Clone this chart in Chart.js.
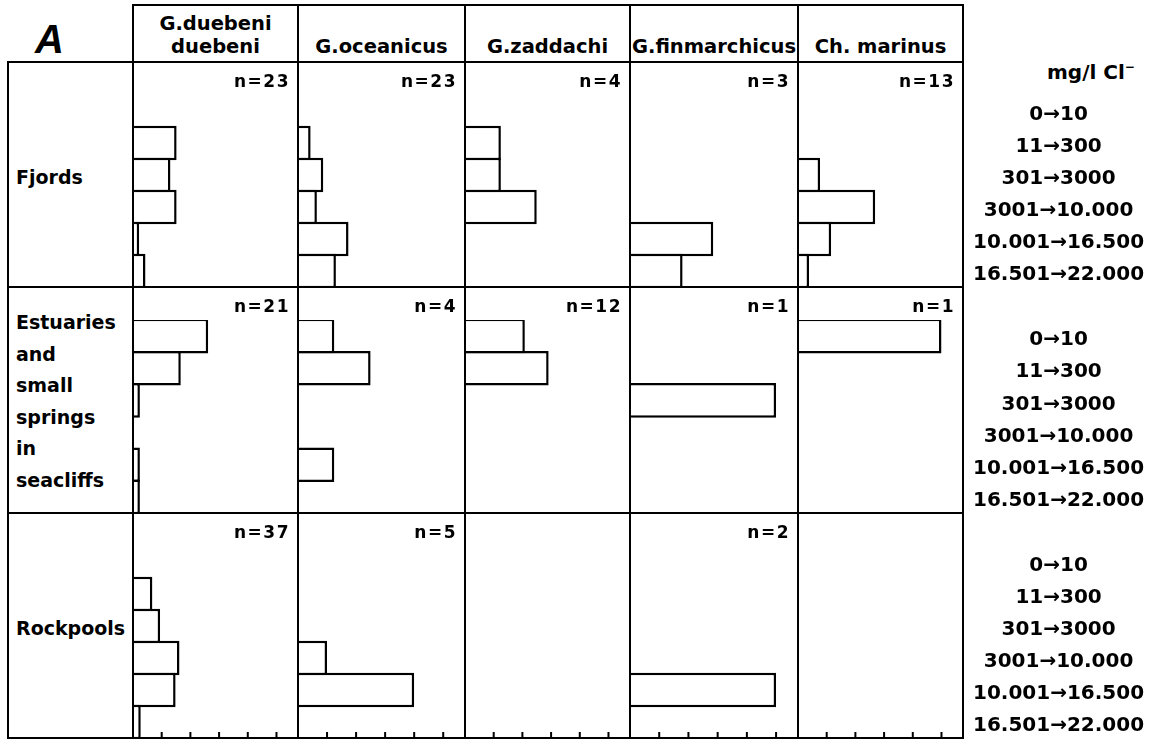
<!DOCTYPE html>
<html>
<head>
<meta charset="utf-8">
<script src="https://cdn.jsdelivr.net/npm/chart.js@4.4.0/dist/chart.umd.min.js"></script>
<style>
  body { margin: 0; background: #fff; }
  #fig { position: relative; width: 1156px; height: 741px; font-family: "DejaVu Sans", sans-serif; font-weight: bold; color: #000; overflow: hidden; }
  #fig canvas { position: absolute; }
  .ln { position: absolute; background: #000; z-index: 3; }
  .txt { position: absolute; white-space: nowrap; line-height: 1; }
</style>
</head>
<body>
<div id="fig"></div>
<script>
// salinity classes (mg/l Cl-)
const categories = ['0→10', '11→300', '301→3000', '3001→10.000', '10.001→16.500', '16.501→22.000'];
const species = [['G.duebeni', 'duebeni'], ['G.oceanicus'], ['G.zaddachi'], ['G.finmarchicus'], ['Ch. marinus']];
const habitats = [['Fjords'], ['Estuaries', 'and', 'small', 'springs', 'in', 'seacliffs'], ['Rockpools']];
const xTickValues = [20, 40, 60, 80, 100];

// number of localities per habitat / species
const nFjords = [23, 23, 4, 3, 13];
const nEstuaries = [21, 4, 12, 1, 1];
const nRockpools = [37, 5, null, 2, null];

// % of localities in each salinity class, one row per species
const fjords = [
  [0, 30.4, 26.1, 30.4, 4.3, 8.7],
  [0, 8.7, 17.4, 13.0, 34.8, 26.1],
  [0, 25, 25, 50, 0, 0],
  [0, 0, 0, 0, 57, 36],
  [0, 0, 15.4, 53.8, 23.1, 7.7]
];
const estuaries = [
  [52.4, 33.3, 4.8, 0, 4.8, 4.8],
  [25, 50, 0, 0, 25, 0],
  [41.7, 58.3, 0, 0, 0, 0],
  [0, 0, 100, 0, 0, 0],
  [100, 0, 0, 0, 0, 0]
];
const rockpools = [
  [0, 13.5, 18.9, 32.4, 29.7, 5.4],
  [0, 0, 0, 20, 80, 0],
  [0, 0, 0, 0, 0, 0],
  [0, 0, 0, 0, 100, 0],
  [0, 0, 0, 0, 0, 0]
];

const fig = document.getElementById('fig');
const colX = [133, 298, 465, 630, 798, 963];
const rowY = [62, 287, 513, 738];
const rightW = 1156 - 963;

function line(x, y, w, h) {
  const d = document.createElement('div');
  d.className = 'ln';
  d.style.left = x + 'px'; d.style.top = y + 'px';
  d.style.width = w + 'px'; d.style.height = h + 'px';
  fig.appendChild(d);
}
function hline(x1, x2, y) { line(x1 - 1, y - 1, x2 - x1 + 2, 2); }
function vline(x, y1, y2) { line(x - 1, y1 - 1, 2, y2 - y1 + 2); }

// text placed by its baseline
function text(str, x, baseline, size, align, extra) {
  const d = document.createElement('div');
  d.className = 'txt';
  d.style.fontSize = size + 'px';
  d.style.top = (baseline - 0.846 * size) + 'px';
  if (align === 'center') {
    d.style.left = (x - 200) + 'px'; d.style.width = '400px'; d.style.textAlign = 'center';
  } else {
    d.style.left = x + 'px';
  }
  if (extra) Object.assign(d.style, extra);
  d.innerHTML = str;
  fig.appendChild(d);
}

// frame
hline(colX[0], colX[5], 5);
hline(8, colX[5], rowY[0]);
rowY.slice(1).forEach(y => hline(8, colX[5], y));
vline(8, rowY[0], rowY[3]);
colX.forEach(x => vline(x, 5, rowY[3]));

// labels
text('A', 35, 53, 40, 'left', { fontFamily: '"Liberation Sans", sans-serif', fontStyle: 'italic' });
species.forEach((lines, c) => {
  const cx = (colX[c] + colX[c + 1]) / 2;
  if (lines.length === 2) {
    text(lines[0], cx, 30, 19.5, 'center');
    text(lines[1], cx, 53, 19.5, 'center');
  } else {
    text(lines[0], cx, 53, 19.5, 'center');
  }
});
text('Fjords', 16, 184, 19, 'left');
habitats[1].forEach((w, i) => text(w, 16, 329 + i * 31.6, 19, 'left'));
text('Rockpools', 16, 635, 19, 'left');
text('mg/l Cl<sup style="font-size:12px">−</sup>', 1047, 78, 20, 'left');

const cellMarks = {
  id: 'cellMarks',
  afterDatasetsDraw(chart, args, opts) {
    const ctx = chart.ctx;
    const area = chart.chartArea;
    ctx.save();
    ctx.fillStyle = '#000';
    if (opts.n != null) {
      ctx.font = 'bold 17px "DejaVu Sans"';
      ctx.letterSpacing = '1.5px';
      ctx.textAlign = 'right';
      ctx.textBaseline = 'alphabetic';
      ctx.fillText('n=' + opts.n, area.right - 8, 25);
    }
    if (opts.ticks) {
      const xs = chart.scales.x;
      xTickValues.forEach(v => {
        const px = xs.getPixelForValue(v);
        ctx.fillRect(px - 1, area.bottom - 6, 2, 6);
      });
    }
    ctx.restore();
  }
};

const rows = [
  { data: fjords, n: nFjords },
  { data: estuaries, n: nEstuaries },
  { data: rockpools, n: nRockpools }
];

rows.forEach((row, r) => {
  for (let c = 0; c < 5; c++) {
    const last = c === 4;
    const w = colX[c + 1] - colX[c] + (last ? rightW : 0);
    const h = rowY[r + 1] - rowY[r];
    const cv = document.createElement('canvas');
    cv.width = w; cv.height = h;
    cv.style.left = colX[c] + 'px';
    cv.style.top = rowY[r] + 'px';
    fig.appendChild(cv);

    new Chart(cv.getContext('2d'), {
      type: 'bar',
      data: {
        labels: categories,
        datasets: [{
          data: row.data[c],
          backgroundColor: '#fff',
          borderColor: '#000',
          borderWidth: 2.5,
          barPercentage: 34.5 / 32,
          categoryPercentage: 1
        }]
      },
      options: {
        indexAxis: 'y',
        responsive: false,
        animation: false,
        events: [],
        layout: { padding: { top: 33 } },
        plugins: {
          legend: { display: false },
          tooltip: { enabled: false },
          cellMarks: { n: row.n[c], ticks: r === 2 }
        },
        scales: {
          x: { display: false, min: 0, max: 115 },
          y: {
            display: last,
            position: 'right',
            grid: { display: false, drawTicks: false, tickLength: 0 },
            border: { display: false },
            ticks: {
              color: '#000',
              font: { family: 'DejaVu Sans', size: 20, weight: 'bold' },
              crossAlign: 'center',
              padding: 10,
              labelOffset: 4,
              autoSkip: false
            },
            afterFit: (s) => {
              if (!last) return;
              s.width = rightW;
              s.paddingTop = 0;
              s.paddingBottom = 0;
            }
          }
        }
      },
      plugins: [cellMarks]
    });
  }
});
</script>
</body>
</html>
